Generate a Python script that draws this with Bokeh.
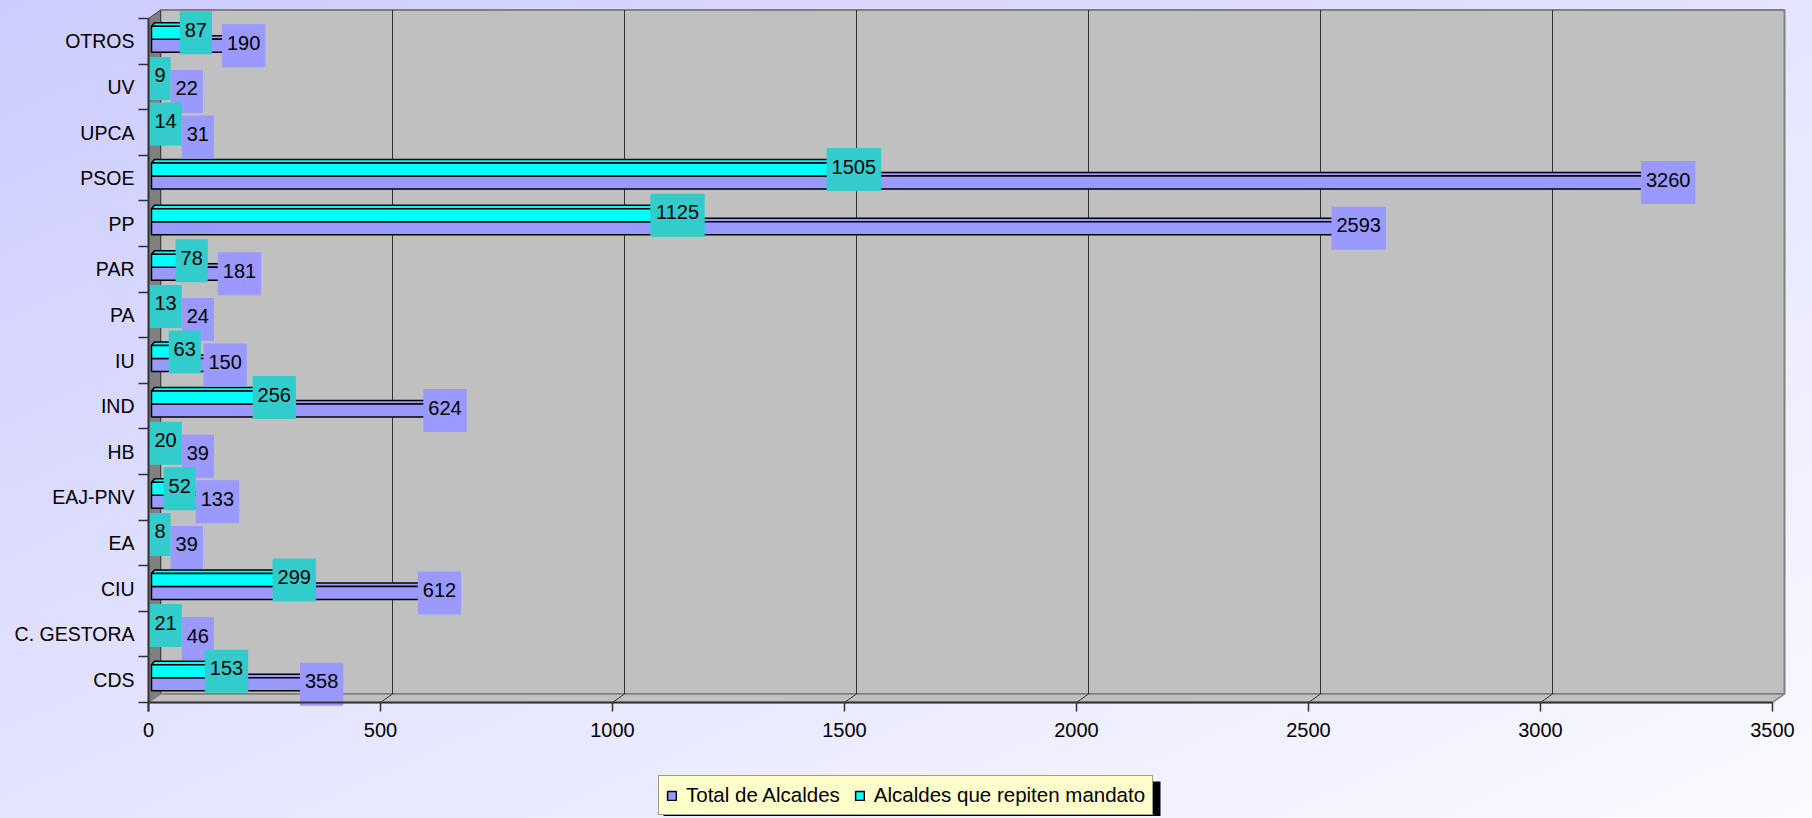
from bokeh.plotting import figure
from bokeh.models import (ColumnDataSource, Range1d, FixedTicker, Legend, LegendItem,
                          GlobalInlineStyleSheet)
from bokeh.core.properties import value
from bokeh.embed import file_html
from bokeh.resources import INLINE

# ---------------- data ----------------
categories = ["CDS", "C. GESTORA", "CIU", "EA", "EAJ-PNV", "HB", "IND", "IU",
              "PA", "PAR", "PP", "PSOE", "UPCA", "UV", "OTROS"]
total_alcaldes = [358, 46, 612, 39, 133, 39, 624, 150, 24, 181, 2593, 3260, 31, 22, 190]
repiten_mandato = [153, 21, 299, 8, 52, 20, 256, 63, 13, 78, 1125, 1505, 14, 9, 87]
x_ticks = [0, 500, 1000, 1500, 2000, 2500, 3000, 3500]
series_labels = ["Total de Alcaldes", "Alcaldes que repiten mandato"]

# ---------------- layout geometry (page pixels) ----------------
W, H = 1810, 816
OFF_X, OFF_Y = 0, 0                       # where the figure sits on the page
AXIS_X0 = 148                             # page x of value 0
AXIS_Y0 = 702                             # page y of the front floor edge
X_MAX = x_ticks[-1]
PXU = (1772 - AXIS_X0) / X_MAX            # px per data unit (x)
N = len(categories)
CAT = (AXIS_Y0 - 18) / N                  # px per category (y)
DEPTH_X, DEPTH_Y = 12, 8.5                # 3-D depth of the chart box
dxu, dyu = DEPTH_X / PXU, DEPTH_Y / CAT
FONT = value("Liberation Sans")

PURPLE, CYAN = "#9999FF", "#00FFFF"
PURPLE_LBL, CYAN_LBL = "#9999FF", "#33CCCC"

x_start = -(AXIS_X0 - OFF_X) / PXU
x_end = (OFF_X + W - AXIS_X0) / PXU
y_end = -0.5 + (AXIS_Y0 - OFF_Y) / CAT
y_start = -0.5 - (OFF_Y + H - AXIS_Y0) / CAT


def fx(px):  # page x -> data x
    return (px - AXIS_X0) / PXU


def fy(py):  # page y -> data y
    return -0.5 + (AXIS_Y0 - py) / CAT


p = figure(width=W, height=H, output_backend="svg", toolbar_location=None,
           x_range=Range1d(x_start, x_end), y_range=Range1d(y_start, y_end),
           min_border_left=0, min_border_right=0, min_border_top=0, min_border_bottom=0)
p.background_fill_color = None
p.border_fill_color = None
p.outline_line_color = None
p.xgrid.visible = False
p.ygrid.visible = False

# ---------------- 3-D box ----------------
top = N - 0.5
bot = -0.5
p.quad(left=[dxu], right=[X_MAX + dxu], bottom=[bot + dyu], top=[top + dyu],
       fill_color="#C0C0C0", line_color="#808080", line_width=2)
p.patch([0, dxu, dxu, 0], [bot, bot + dyu, top + dyu, top],
        fill_color="#808080", line_color="#404040", line_width=1)
p.patch([0, X_MAX, X_MAX + dxu, dxu], [bot, bot, bot + dyu, bot + dyu],
        fill_color="#C0C0C0", line_color="#808080", line_width=1.5)
inner = x_ticks[1:-1]
p.segment(x0=[t + dxu for t in inner], y0=[bot + dyu] * len(inner),
          x1=[t + dxu for t in inner], y1=[top + dyu] * len(inner),
          line_color="#333333", line_width=1)
p.segment(x0=inner, y0=[bot] * len(inner), x1=[t + dxu for t in inner],
          y1=[bot + dyu] * len(inner), line_color="#333333", line_width=1)

# ---------------- bars ----------------
BAR_H = 13 / CAT
CY_OFF = 8.5 / CAT
PU_OFF = -4.5 / CAT
BAR_START = 3 / PXU
TOP_DX, TOP_DY = 3 / PXU, 3.5 / CAT
idx = list(range(N))


def top_faces(vals, yc):
    xs, ys = [], []
    for v, y in zip(vals, yc):
        yt = y + BAR_H / 2
        x0, x1 = BAR_START, max(v, BAR_START)
        xs.append([x0, x1, x1 + TOP_DX, x0 + TOP_DX])
        ys.append([yt, yt, yt + TOP_DY, yt + TOP_DY])
    return xs, ys


pu_y = [i + PU_OFF for i in idx]
cy_y = [i + CY_OFF for i in idx]

xs, ys = top_faces(total_alcaldes, pu_y)
p.patches(xs, ys, fill_color=PURPLE, line_color="black", line_width=1.5)
tot_front = p.hbar(y=pu_y, left=BAR_START, right=total_alcaldes, height=BAR_H,
                   fill_color=PURPLE, line_color="black", line_width=1.5)
xs, ys = top_faces(repiten_mandato, cy_y)
p.patches(xs, ys, fill_color=CYAN, line_color="black", line_width=1.5)
rep_front = p.hbar(y=cy_y, left=BAR_START, right=repiten_mandato, height=BAR_H,
                   fill_color=CYAN, line_color="black", line_width=1.5)

# ---------------- data labels ----------------
DIGIT_W, BOX_PAD, SHIFT, BOX_H = 11.12, 5, 7, 43
rep_w = [len(str(v)) * DIGIT_W + 2 * BOX_PAD for v in repiten_mandato]
rep_l = [max(v * PXU + SHIFT - w / 2, 1) for v, w in zip(repiten_mandato, rep_w)]
tot_w = [len(str(v)) * DIGIT_W + 2 * BOX_PAD for v in total_alcaldes]
tot_l = [max(v * PXU + SHIFT - w / 2, rl + rw)
         for v, w, rl, rw in zip(total_alcaldes, tot_w, rep_l, rep_w)]

tot_src = ColumnDataSource(dict(x=[(l + w / 2) / PXU for l, w in zip(tot_l, tot_w)],
                                y=pu_y, w=tot_w, t=[str(v) for v in total_alcaldes]))
rep_src = ColumnDataSource(dict(x=[(l + w / 2) / PXU for l, w in zip(rep_l, rep_w)],
                                y=cy_y, w=rep_w, t=[str(v) for v in repiten_mandato]))
for src, col in ((tot_src, PURPLE_LBL), (rep_src, CYAN_LBL)):
    p.rect(x="x", y="y", width="w", height=BOX_H, width_units="screen",
           height_units="screen", source=src, fill_color=col, line_color=None)
    p.text(x="x", y="y", text="t", source=src, text_font=FONT, text_font_size="20px",
           text_align="center", text_baseline="middle", y_offset=-3, text_color="black")

# ---------------- axes ----------------
xa = p.xaxis[0]
xa.fixed_location = bot
xa.bounds = (0, X_MAX)
xa.ticker = FixedTicker(ticks=x_ticks)
xa.major_label_text_font = "Liberation Sans"
xa.major_label_text_font_size = "20px"
xa.major_label_text_color = "black"
xa.major_label_standoff = 11
xa.major_tick_out = 9
xa.major_tick_in = 0
xa.minor_tick_out = 0
xa.minor_tick_in = 0
xa.axis_line_color = "#333333"
xa.axis_line_width = 2
xa.major_tick_line_color = "#333333"
xa.major_tick_line_width = 1.5

ya = p.yaxis[0]
ya.fixed_location = 0
ya.bounds = (bot - 9 / CAT, top)
ya.ticker = FixedTicker(ticks=idx, minor_ticks=[i - 0.5 for i in range(N + 1)])
ya.major_label_overrides = {i: c for i, c in zip(idx, categories)}
ya.major_label_text_font = "Liberation Sans"
ya.major_label_text_font_size = "19.5px"
ya.major_label_text_color = "black"
ya.major_label_standoff = 4
ya.major_tick_line_color = None
ya.major_tick_out = 0
ya.major_tick_in = 0
ya.minor_tick_out = 10
ya.minor_tick_in = 0
ya.minor_tick_line_color = "#333333"
ya.minor_tick_line_width = 1.5
ya.axis_line_color = "#333333"
ya.axis_line_width = 2

# ---------------- legend (with shadow) ----------------
LEG_LEFT, LEG_BOTTOM = 658, 815           # page px
LEG_W, LEG_H = 497, 38                    # approx. size of the legend box
p.quad(left=[fx(LEG_LEFT + 5)], right=[fx(LEG_LEFT + LEG_W + 5)],
       top=[fy(LEG_BOTTOM - LEG_H + 4)], bottom=[fy(LEG_BOTTOM + 6)],
       fill_color="black", line_color=None)

legend = Legend(items=[LegendItem(label=series_labels[0], renderers=[tot_front]),
                       LegendItem(label=series_labels[1], renderers=[rep_front])],
                location=(LEG_LEFT - OFF_X, OFF_Y + H - LEG_BOTTOM),
                orientation="horizontal",
                background_fill_color="#FFFFCC", background_fill_alpha=1,
                border_line_color="#404040", border_line_width=1,
                label_text_font="Liberation Sans", label_text_font_size="20.5px",
                label_text_color="black", glyph_width=11, glyph_height=11,
                label_standoff=9, spacing=14, padding=7, margin=0)
p.add_layout(legend, "center")

p.stylesheets = [GlobalInlineStyleSheet(css=(
    "html{min-height:100%;background:linear-gradient(to bottom right,#CCCCFF 0%,#E4E4FF 50%,#FAFAFF 100%);}"
    "body{background:transparent;}"))]

open("out.html", "w").write(file_html(p, INLINE))
